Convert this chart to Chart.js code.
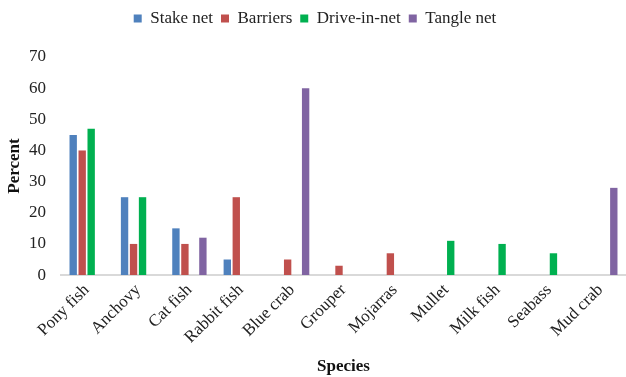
<!DOCTYPE html>
<html>
<head>
<meta charset="utf-8">
<script src="https://cdn.jsdelivr.net/npm/chart.js@4.4.1/dist/chart.umd.min.js"></script>
<style>
html,body{margin:0;padding:0;background:#fff;}
#wrap{width:626px;height:377px;}
</style>
</head>
<body>
<div id="wrap"><canvas id="c" width="626" height="377"></canvas></div>
<script>
const categories = ["Pony fish","Anchovy","Cat fish","Rabbit fish","Blue crab","Grouper","Mojarras","Mullet","Milk fish","Seabass","Mud crab"];
const stakeNet   = [45, 25, 15, 5, null, null, null, null, null, null, null];
const barriers   = [40, 10, 10, 25, 5, 3, 7, null, null, null, null];
const driveInNet = [47, 25, null, null, null, null, null, 11, 10, 7, null];
const tangleNet  = [null, null, 12, null, 60, null, null, null, null, null, 28];
const yTicks = [0, 10, 20, 30, 40, 50, 60, 70];

const serif = "'Liberation Serif', 'Times New Roman', serif";
const mk = (label, data, color) => ({
  label, data, backgroundColor: color, borderColor: color, borderWidth: 0,
  categoryPercentage: 0.7, barPercentage: 0.82
});

const legendPad = {
  id: 'legendPad',
  beforeInit(chart) {
    const fit = chart.legend.fit;
    chart.legend.fit = function () { fit.bind(chart.legend)(); this.height += 20; };
  }
};

new Chart(document.getElementById('c'), {
  type: 'bar',
  plugins: [legendPad],
  data: {
    labels: categories,
    datasets: [
      mk('Stake net', stakeNet, '#4F81BD'),
      mk('Barriers', barriers, '#C0504D'),
      mk('Drive-in-net', driveInNet, '#00B050'),
      mk('Tangle net', tangleNet, '#8064A2')
    ]
  },
  options: {
    responsive: false,
    devicePixelRatio: 1,
    animation: false,
    layout: { padding: { left: 4, right: 0, top: 2, bottom: 0 } },
    plugins: {
      tooltip: { enabled: false },
      legend: {
        position: 'top',
        labels: {
          boxWidth: 8, boxHeight: 8, padding: 8,
          color: '#222',
          font: { family: serif, size: 17 }
        }
      }
    },
    scales: {
      x: {
        afterFit: (axis) => { axis.paddingLeft = 0; axis.paddingRight = 0; },
        grid: { display: false, drawTicks: false },
        border: { display: true, color: '#d9d9d9', width: 2 },
        ticks: {
          autoSkip: false, minRotation: 45, maxRotation: 45, padding: 5,
          color: '#222', font: { family: serif, size: 17 }
        },
        title: {
          display: true, text: 'Species', color: '#111',
          font: { family: serif, size: 17, weight: 'bold' }, padding: { top: 4, bottom: 0 }
        }
      },
      y: {
        min: 0, max: 70,
        afterBuildTicks: (axis) => { axis.ticks = yTicks.map(v => ({ value: v })); },
        afterFit: (axis) => { axis.width = 57; },
        grid: { display: false, drawTicks: false },
        border: { display: false },
        ticks: {
          padding: 15, color: '#222', font: { family: serif, size: 17 }
        },
        title: {
          display: true, text: 'Percent', color: '#111',
          font: { family: serif, size: 17, weight: 'bold' }, padding: { top: 0, bottom: 4 }
        }
      }
    }
  }
});
</script>
</body>
</html>
